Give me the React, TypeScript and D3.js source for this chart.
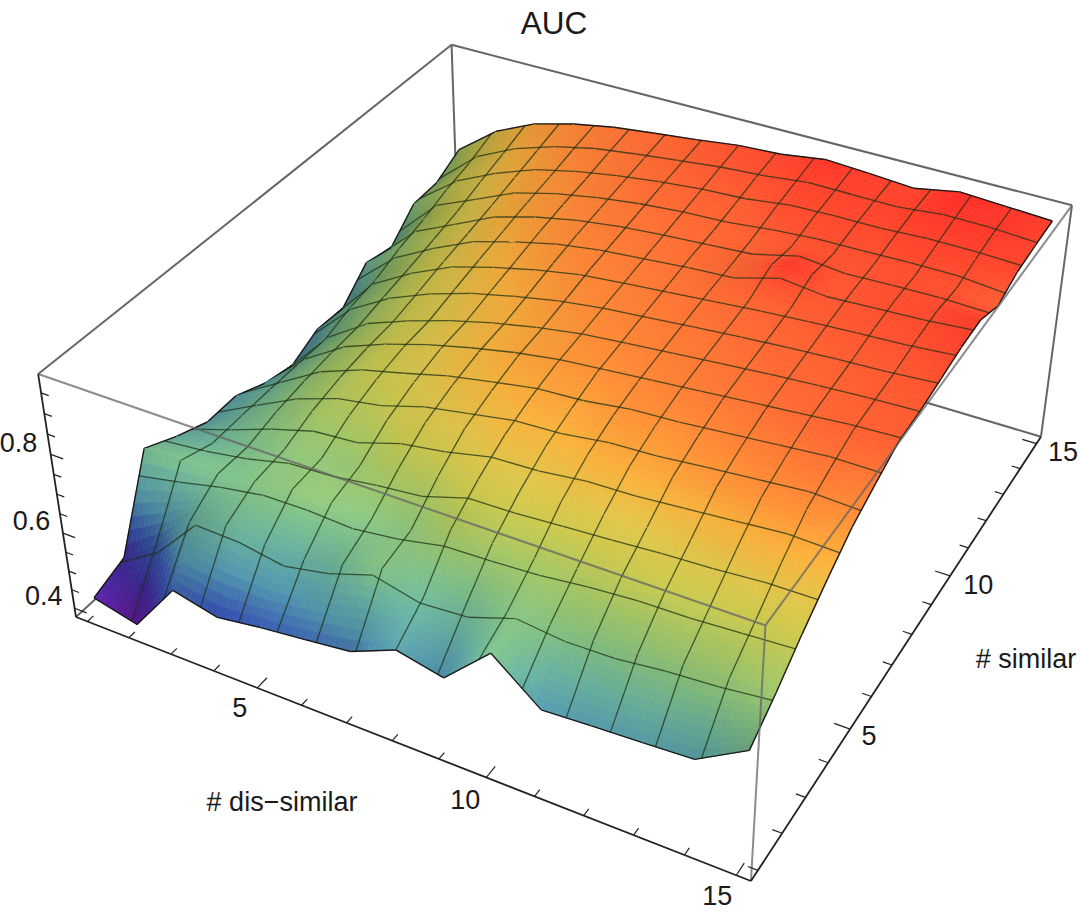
import React, { useEffect, useRef } from 'react';
import * as d3 from 'd3';

// AUC by # dis-similar (columns, 1..15) and # similar (rows, 1..15)
const dissimilar = d3.range(1, 16);
const similar = d3.range(1, 16);
const auc = [
  [.418, .389, .524, .496, .513, .526, .540, .589, .563, .671, .575, .582, .588, .595, .666],
  [.448, .532, .641, .641, .616, .640, .682, .643, .656, .687, .686, .688, .703, .711, .717],
  [.665, .667, .665, .690, .701, .685, .690, .734, .735, .734, .752, .763, .761, .768, .775],
  [.626, .642, .673, .701, .703, .739, .754, .784, .788, .801, .802, .809, .819, .829, .827],
  [.595, .650, .698, .734, .749, .784, .804, .824, .829, .844, .849, .861, .871, .881, .874],
  [.597, .652, .714, .754, .779, .809, .829, .849, .854, .871, .876, .886, .896, .906, .904],
  [.564, .657, .724, .766, .799, .826, .849, .866, .876, .886, .896, .906, .916, .926, .932],
  [.547, .659, .730, .771, .806, .834, .857, .875, .886, .896, .906, .916, .924, .931, .935],
  [.582, .682, .744, .789, .824, .849, .871, .886, .896, .906, .916, .924, .931, .936, .945],
  [.578, .697, .759, .809, .839, .866, .886, .896, .906, .916, .926, .934, .941, .946, .956],
  [.643, .719, .774, .824, .856, .881, .896, .906, .916, .921, .966, .941, .946, .951, .959],
  [.625, .744, .789, .841, .871, .891, .906, .916, .921, .931, .941, .944, .946, .946, .931],
  [.689, .764, .814, .856, .881, .901, .916, .926, .931, .946, .951, .951, .956, .956, .953],
  [.693, .784, .836, .871, .896, .911, .924, .936, .944, .956, .956, .956, .966, .966, .959],
  [.730, .810, .859, .887, .907, .920, .932, .946, .952, .968, .962, .954, .975, .969, .963],
];
const xTicks = d3.range(1, 16);
const yTicks = d3.range(1, 16);
const zTicks = [0.4, 0.45, 0.5, 0.55, 0.6, 0.65, 0.7, 0.75, 0.8, 0.85, 0.9, 0.95];
const majorXY = [5, 10, 15];
const majorZ = [0.4, 0.6, 0.8];
const colorStops = [.39, .45, .51, .57, .63, .68, .73, .77, .80, .84, .88, .94, .975];
const colorValues = ['#6a1ba8', '#4a2fb0', '#3f62c8', '#5aa5c0', '#70bca8', '#88c888', '#abcc66', '#d0cd50', '#e2c84c', '#fab23c', '#ff8c36', '#ff5530', '#ff2d26'];
const meshLines = d3.range(1, 16).map(k => 1 + (14 * k) / 16);

const xScale = d3.scaleLinear().domain([0.72, 15.28]).range([0, 1]);
const yScale = d3.scaleLinear().domain([0.72, 15.28]).range([0, 1]);
const zScale = d3.scaleLinear().domain([0.376, 0.995]).range([0, 1]);
const colorScale = d3.scaleLinear<string>().domain(colorStops).range(colorValues).interpolate(d3.interpolateRgb);

// camera matrix, box coordinates to screen
function project(u: number, v: number, t: number): [number, number] {
  const w = 1 - 0.1178 * u + 0.2185 * v - 0.0696 * t;
  return [
    (76 + 586.5 * u + 483.3 * v - 40.5 * t) / w,
    (617 + 160.2 * u - 296.5 * v - 269 * t) / w,
  ];
}
const pt = (x: number, y: number, z: number) => project(xScale(x), yScale(y), zScale(z));

function height(x: number, y: number) {
  const i = Math.min(13, Math.floor(x - 1));
  const j = Math.min(13, Math.floor(y - 1));
  const fx = x - 1 - i;
  const fy = y - 1 - j;
  return (
    auc[j][i] * (1 - fx) * (1 - fy) +
    auc[j][i + 1] * fx * (1 - fy) +
    auc[j + 1][i] * (1 - fx) * fy +
    auc[j + 1][i + 1] * fx * fy
  );
}

// smooth shading from the surface slope at each node
const light = [0.32, -0.22, 0.92];
const shadeAt = similar.map((_, j) =>
  dissimilar.map((_, i) => {
    const i0 = Math.max(0, i - 1), i1 = Math.min(14, i + 1);
    const j0 = Math.max(0, j - 1), j1 = Math.min(14, j + 1);
    const dx = ((zScale(auc[j][i1]) - zScale(auc[j][i0])) / (xScale(i1) - xScale(i0))) * 0.45;
    const dy = ((zScale(auc[j1][i]) - zScale(auc[j0][i])) / (yScale(j1) - yScale(j0))) * 0.45;
    const len = Math.hypot(dx, dy, 1);
    const dot = (-dx * light[0] - dy * light[1] + light[2]) / len;
    return 0.42 + 0.64 * Math.max(0, dot);
  })
);
function shade(x: number, y: number) {
  const i = Math.min(13, Math.floor(x - 1));
  const j = Math.min(13, Math.floor(y - 1));
  const fx = x - 1 - i;
  const fy = y - 1 - j;
  return (
    shadeAt[j][i] * (1 - fx) * (1 - fy) +
    shadeAt[j][i + 1] * fx * (1 - fy) +
    shadeAt[j + 1][i] * (1 - fx) * fy +
    shadeAt[j + 1][i + 1] * fx * fy
  );
}

type Mark = { d: string; fill: string; stroke: string; width: number };

const line = d3.line<[number, number]>();
const SUB = 8;

function surfaceMarks(): Mark[] {
  const marks: Mark[] = [];
  const poly = (corners: [number, number][]) =>
    corners.map(c => pt(c[0], c[1], height(c[0], c[1])));
  // far corner first: low x, high y
  for (let i = 0; i < 14; i++) {
    for (let j = 13; j >= 0; j--) {
      const x0 = i + 1;
      const y0 = j + 1;
      for (let a = 0; a < SUB; a++) {
        for (let b = SUB - 1; b >= 0; b--) {
          const xa = x0 + a / SUB, xb = x0 + (a + 1) / SUB;
          const ya = y0 + b / SUB, yb = y0 + (b + 1) / SUB;
          const mx = (xa + xb) / 2, my = (ya + yb) / 2;
          const c = d3.rgb(colorScale(height(mx, my)));
          const s = shade(mx, my);
          const col = d3.rgb(Math.min(255, c.r * s), Math.min(255, c.g * s), Math.min(255, c.b * s)).formatHex();
          marks.push({
            d: line(poly([[xa, ya], [xb, ya], [xb, yb], [xa, yb]]))! + 'Z',
            fill: col,
            stroke: col,
            width: 0.7,
          });
        }
      }
      const meshStroke = 'rgba(30,48,22,0.75)';
      meshLines.forEach(m => {
        if (m >= x0 && m < x0 + 1) {
          marks.push({ d: line(poly([[m, y0], [m, y0 + 1]]))!, fill: 'none', stroke: meshStroke, width: 1.3 });
        }
        // rows are drawn downwards, so a line on a row boundary goes with the lower cell
        if (m > y0 && m <= y0 + 1) {
          marks.push({ d: line(poly([[x0, m], [x0 + 1, m]]))!, fill: 'none', stroke: meshStroke, width: 1.3 });
        }
      });
      const edge = '#1a1a1a';
      if (i === 0) marks.push({ d: line(poly([[x0, y0], [x0, y0 + 1]]))!, fill: 'none', stroke: edge, width: 1.4 });
      if (i === 13) marks.push({ d: line(poly([[x0 + 1, y0], [x0 + 1, y0 + 1]]))!, fill: 'none', stroke: edge, width: 1.4 });
      if (j === 0) marks.push({ d: line(poly([[x0, y0], [x0 + 1, y0]]))!, fill: 'none', stroke: edge, width: 1.4 });
      if (j === 13) marks.push({ d: line(poly([[x0, y0 + 1], [x0 + 1, y0 + 1]]))!, fill: 'none', stroke: edge, width: 1.4 });
    }
  }
  return marks;
}

const boxGray = '#666666';
const boxLine = (a: number[], b: number[]) => line([project(a[0], a[1], a[2]), project(b[0], b[1], b[2])])!;

export default function App() {
  const svgRef = useRef<SVGSVGElement>(null);

  useEffect(() => {
    const svg = d3.select(svgRef.current);
    svg.selectAll('*').remove();

    // back of the box
    const back = [
      [[0, 0, 0], [0, 1, 0]],
      [[0, 1, 0], [1, 1, 0]],
      [[0, 1, 0], [0, 1, 1]],
      [[0, 0, 1], [0, 1, 1]],
      [[0, 1, 1], [1, 1, 1]],
      [[1, 1, 0], [1, 1, 1]],
    ];
    svg.append('g').selectAll('path').data(back).join('path')
      .attr('d', e => boxLine(e[0], e[1]))
      .attr('fill', 'none').attr('stroke', boxGray).attr('stroke-width', 2);

    svg.append('g').selectAll('path').data(surfaceMarks()).join('path')
      .attr('d', m => m.d)
      .attr('fill', m => m.fill)
      .attr('stroke', m => m.stroke)
      .attr('stroke-width', m => m.width)
      .attr('stroke-linejoin', 'round');

    // front of the box, over the surface
    const front = [
      [[0, 0, 1], [1, 0, 1]],
      [[1, 0, 1], [1, 1, 1]],
      [[1, 0, 0], [1, 0, 1]],
    ];
    svg.append('g').selectAll('path').data(front).join('path')
      .attr('d', e => boxLine(e[0], e[1]))
      .attr('fill', 'none').attr('stroke', boxGray).attr('stroke-width', 2).attr('stroke-opacity', 0.75);

    // axes
    const axes = [
      [[0, 0, 0], [1, 0, 0]],
      [[1, 0, 0], [1, 1, 0]],
      [[0, 0, 0], [0, 0, 1]],
    ];
    const axisG = svg.append('g').attr('fill', 'none').attr('stroke', '#222').attr('stroke-width', 1.8);
    axisG.selectAll('path.axis').data(axes).join('path').attr('class', 'axis')
      .attr('d', e => boxLine(e[0], e[1]));

    const tickG = svg.append('g').attr('fill', 'none').attr('stroke', '#222').attr('stroke-width', 1.2);
    const xLen = (v: number) => (majorXY.includes(v) ? 0.022 : 0.013);
    tickG.selectAll('path.tx').data(xTicks).join('path').attr('class', 'tx')
      .attr('d', v => boxLine([xScale(v), 0, 0], [xScale(v), xLen(v), 0]));
    tickG.selectAll('path.ty').data(yTicks).join('path').attr('class', 'ty')
      .attr('d', v => boxLine([1, yScale(v), 0], [1 - xLen(v), yScale(v), 0]));
    const zLen = (v: number) => (majorZ.includes(v) ? 0.02 : 0.012);
    tickG.selectAll('path.tz').data(zTicks).join('path').attr('class', 'tz')
      .attr('d', v => boxLine([0, 0, zScale(v)], [zLen(v), 0, zScale(v)]));

    const labels = svg.append('g')
      .attr('font-family', '"Liberation Sans", Arial, sans-serif')
      .attr('font-size', 27)
      .attr('fill', '#1a1a1a')
      .attr('text-anchor', 'middle')
      .attr('dominant-baseline', 'central');

    labels.selectAll('text.lx').data(majorXY).join('text').attr('class', 'lx')
      .attr('x', v => project(xScale(v), -0.046, 0)[0] + (v < 10 ? 3 : -2))
      .attr('y', v => project(xScale(v), -0.046, 0)[1] - (v < 15 ? 1 : 5))
      .text(v => v);
    const yOff = (v: number) => (v < 10 ? 1.026 : 1.041);
    labels.selectAll('text.ly').data(majorXY).join('text').attr('class', 'ly')
      .attr('x', v => project(yOff(v), yScale(v), 0)[0])
      .attr('y', v => project(yOff(v), yScale(v), 0)[1])
      .text(v => v);
    labels.selectAll('text.lz').data(majorZ).join('text').attr('class', 'lz')
      .attr('x', v => project(-0.052, 0, zScale(v))[0])
      .attr('y', v => project(-0.052, 0, zScale(v))[1])
      .text(v => d3.format('.1f')(v));

    labels.append('text').attr('x', 282).attr('y', 802).text('# dis−similar');
    labels.append('text').attr('x', 1026).attr('y', 659).text('# similar');
    labels.append('text').attr('x', 554).attr('y', 23).attr('font-size', 31.5).text('AUC');
  }, []);

  return (
    <svg
      ref={svgRef}
      width={1080}
      height={912}
      viewBox="0 0 1080 912"
      style={{ position: 'absolute', left: 0, top: 0, background: '#fff' }}
    />
  );
}
